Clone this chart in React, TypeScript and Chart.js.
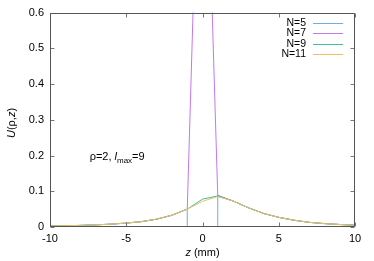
import React, { useEffect, useRef } from "react";
import { Chart, registerables } from "chart.js";

Chart.register(...registerables);

const zValues = [-10, -9, -8, -7, -6, -5, -4, -3, -2, -1, 0, 1, 2, 3, 4, 5, 6, 7, 8, 9, 10];
const seriesN5 = [0.003, 0.0035, 0.0045, 0.006, 0.008, 0.011, 0.015, 0.022, 0.033, 0.05, -50, 0.089, 0.073, 0.054, 0.038, 0.027, 0.019, 0.013, 0.0095, 0.007, 0.005];
const seriesN7 = [0.003, 0.0035, 0.0045, 0.006, 0.008, 0.011, 0.015, 0.022, 0.033, 0.05, 1.5, 0.086, 0.073, 0.054, 0.038, 0.027, 0.019, 0.013, 0.0095, 0.007, 0.005];
const seriesN9 = [0.003, 0.0035, 0.0045, 0.006, 0.008, 0.011, 0.015, 0.022, 0.033, 0.05, 0.078, 0.087, 0.073, 0.054, 0.038, 0.027, 0.019, 0.013, 0.0095, 0.007, 0.005];
const seriesN11 = [0.003, 0.0035, 0.0045, 0.006, 0.008, 0.011, 0.015, 0.022, 0.033, 0.05, 0.072, 0.085, 0.073, 0.054, 0.038, 0.027, 0.019, 0.013, 0.0095, 0.007, 0.005];
const seriesLabels = ["N=5", "N=7", "N=9", "N=11"];
const seriesColors = ["#6ab0e0", "#c477ee", "#3cc09a", "#f0c060"];
const xTicks = [-10, -5, 0, 5, 10];
const yTicks = [0, 0.1, 0.2, 0.3, 0.4, 0.5, 0.6];

const FONT = "'Liberation Sans', Arial, sans-serif";

const framePlugin = {
  id: "frame",
  afterDraw(chart: any) {
    const { ctx, chartArea } = chart;
    const xs = chart.scales.x;
    const ys = chart.scales.y;
    const l = Math.round(chartArea.left) + 0.5;
    const r = Math.round(chartArea.right) - 0.5;
    const t = Math.round(chartArea.top) + 0.5;
    const b = Math.round(chartArea.bottom) - 0.5;
    ctx.save();
    // tick marks
    ctx.strokeStyle = "#777";
    ctx.lineWidth = 1;
    ctx.beginPath();
    xTicks.forEach((v) => {
      const px = Math.round(xs.getPixelForValue(v)) + 0.5;
      ctx.moveTo(px, b);
      ctx.lineTo(px, b - 4);
      ctx.moveTo(px, t);
      ctx.lineTo(px, t + 4);
    });
    yTicks.forEach((v) => {
      const py = Math.round(ys.getPixelForValue(v)) + 0.5;
      ctx.moveTo(l, py);
      ctx.lineTo(l + 4, py);
      ctx.moveTo(r, py);
      ctx.lineTo(r - 4, py);
    });
    ctx.stroke();
    // frame
    ctx.strokeStyle = "#555";
    ctx.beginPath();
    ctx.rect(l, t, r - l, b - t);
    ctx.stroke();

    // legend
    ctx.font = `10.5px ${FONT}`;
    ctx.textAlign = "right";
    ctx.textBaseline = "middle";
    seriesLabels.forEach((lab, i) => {
      const y = chartArea.top + 10.5 + i * 10.3;
      ctx.fillStyle = "#000";
      ctx.fillText(lab, chartArea.right - 49, y);
      ctx.strokeStyle = seriesColors[i];
      ctx.beginPath();
      ctx.moveTo(chartArea.right - 42, Math.round(y) + 0.5);
      ctx.lineTo(chartArea.right - 12, Math.round(y) + 0.5);
      ctx.stroke();
    });

    // annotation
    let ax = xs.getPixelForValue(-7.4);
    const ay = ys.getPixelForValue(0.2) + 4;
    ctx.textAlign = "left";
    ctx.textBaseline = "alphabetic";
    ctx.fillStyle = "#000";
    const parts: [string, string, number][] = [
      ["ρ=2, ", `11px ${FONT}`, 0],
      ["l", `italic 11px ${FONT}`, 0],
      ["max", `8px ${FONT}`, 3],
      ["=9", `11px ${FONT}`, 0],
    ];
    parts.forEach(([s, f, dy]) => {
      ctx.font = f;
      ctx.fillText(s, ax, ay + dy);
      ax += ctx.measureText(s).width;
    });

    // x title
    const xParts: [string, string][] = [
      ["z", `italic 11px ${FONT}`],
      [" (mm)", `11px ${FONT}`],
    ];
    let total = 0;
    xParts.forEach(([s, f]) => {
      ctx.font = f;
      total += ctx.measureText(s).width;
    });
    let tx = (chartArea.left + chartArea.right) / 2 - total / 2;
    ctx.textBaseline = "middle";
    xParts.forEach(([s, f]) => {
      ctx.font = f;
      ctx.fillText(s, tx, 253);
      tx += ctx.measureText(s).width;
    });

    // y title
    const yParts: [string, string][] = [
      ["U", `italic 11px ${FONT}`],
      ["(ρ,", `11px ${FONT}`],
      ["z", `italic 11px ${FONT}`],
      [")", `11px ${FONT}`],
    ];
    total = 0;
    yParts.forEach(([s, f]) => {
      ctx.font = f;
      total += ctx.measureText(s).width;
    });
    ctx.translate(12, 123);
    ctx.rotate(-Math.PI / 2);
    let ty = -total / 2;
    yParts.forEach(([s, f]) => {
      ctx.font = f;
      ctx.fillText(s, ty, 0);
      ty += ctx.measureText(s).width;
    });
    ctx.restore();
  },
};

export default function App() {
  const ref = useRef<HTMLCanvasElement>(null);
  useEffect(() => {
    if (!ref.current) return;
    const all = [seriesN5, seriesN7, seriesN9, seriesN11];
    const chart = new Chart(ref.current, {
      type: "line",
      data: {
        datasets: all.map((vals, i) => ({
          label: seriesLabels[i],
          data: zValues.map((z, j) => ({ x: z, y: vals[j] })),
          borderColor: seriesColors[i],
          borderWidth: 1,
          pointRadius: 0,
          tension: 0,
          fill: false,
          order: 4 - i,
          clip: 0,
        })),
      },
      options: {
        animation: false,
        responsive: true,
        maintainAspectRatio: false,
        layout: { padding: { top: 9, right: 19, left: 0, bottom: 0 } },
        plugins: { legend: { display: false }, tooltip: { enabled: false } },
        scales: {
          x: {
            type: "linear",
            min: -10,
            max: 10,
            afterFit: (s: any) => {
              s.height = 34;
            },
            afterBuildTicks: (s: any) => {
              s.ticks = xTicks.map((v) => ({ value: v }));
            },
            ticks: {
              color: "#000",
              font: { family: FONT, size: 11 },
              padding: 5,
              maxRotation: 0,
              callback: (v: any) => String(v),
            },
            grid: { display: false, drawTicks: false },
            border: { display: false },
          },
          y: {
            type: "linear",
            min: 0,
            max: 0.6,
            afterFit: (s: any) => {
              s.width = 50;
            },
            afterBuildTicks: (s: any) => {
              s.ticks = yTicks.map((v) => ({ value: v }));
            },
            ticks: {
              color: "#000",
              font: { family: FONT, size: 11 },
              padding: 6,
              callback: (v: any) => (v === 0 ? "0" : Number(v).toFixed(1)),
            },
            grid: { display: false, drawTicks: false },
            border: { display: false },
          },
        },
      },
      plugins: [framePlugin],
    });
    return () => chart.destroy();
  }, []);
  return (
    <div style={{ position: "absolute", left: 0, top: 0, width: 374, height: 261 }}>
      <canvas ref={ref} />
    </div>
  );
}
